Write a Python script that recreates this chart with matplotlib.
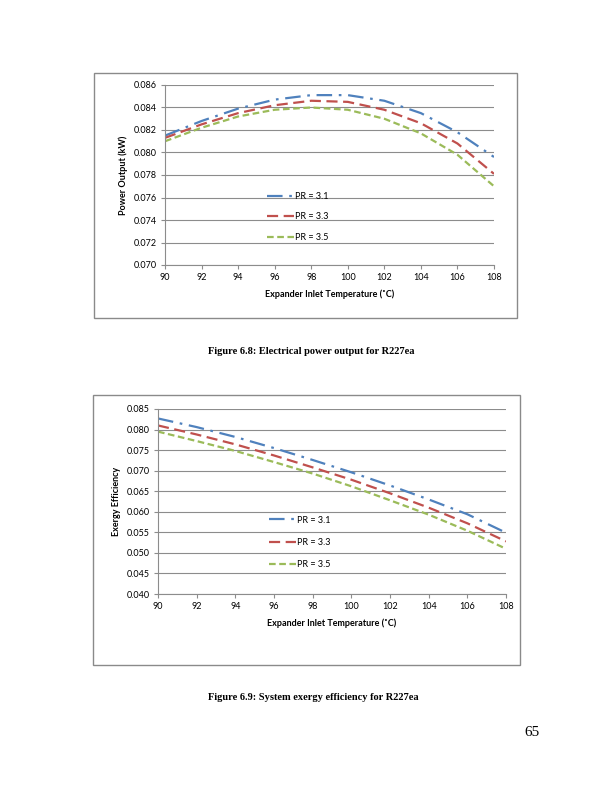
import matplotlib
matplotlib.use("Agg")
import matplotlib.pyplot as plt
from matplotlib.patches import Rectangle

# ---- data ----
temps = [90, 92, 94, 96, 98, 100, 102, 104, 106, 108]
series_labels = ["PR = 3.1", "PR = 3.3", "PR = 3.5"]

power_pr31 = [0.0815, 0.0828, 0.0839, 0.0847, 0.0851, 0.0851, 0.0846, 0.0835, 0.0818, 0.0796]
power_pr33 = [0.0813, 0.0825, 0.0835, 0.0842, 0.0846, 0.0845, 0.0838, 0.0826, 0.0808, 0.0781]
power_pr35 = [0.0810, 0.0822, 0.0832, 0.0838, 0.0840, 0.0838, 0.0830, 0.0817, 0.0798, 0.0770]

exergy_pr31 = [0.0827, 0.0806, 0.0782, 0.0755, 0.0726, 0.0696, 0.0664, 0.0630, 0.0594, 0.0549]
exergy_pr33 = [0.0810, 0.0788, 0.0764, 0.0737, 0.0708, 0.0678, 0.0645, 0.0610, 0.0572, 0.0528]
exergy_pr35 = [0.0795, 0.0772, 0.0748, 0.0721, 0.0693, 0.0662, 0.0628, 0.0593, 0.0554, 0.0510]

xticks = [90, 92, 94, 96, 98, 100, 102, 104, 106, 108]
power_yticks = [0.070, 0.072, 0.074, 0.076, 0.078, 0.080, 0.082, 0.084, 0.086]
exergy_yticks = [0.040, 0.045, 0.050, 0.055, 0.060, 0.065, 0.070, 0.075, 0.080, 0.085]

xlabel = "Expander Inlet Temperature (\u02daC)"
caption1 = "Figure 6.8: Electrical power output for R227ea"
caption2 = "Figure 6.9: System exergy efficiency for R227ea"
page_number = "65"

# ---- styles ----
W, H = 612, 792
colors = ["#4F81BD", "#C0504D", "#9BBB59"]
styles = [(0, (7, 3, 1.2, 3)), (0, (5, 2.5)), (0, (3, 1.6))]
FONT = "Lato"
grid_col = "#8C8C8C"

fig = plt.figure(figsize=(W / 100, H / 100), dpi=100)


def box(px0, py0, px1, py1):
    return [px0 / W, 1 - py1 / H, (px1 - px0) / W, (py1 - py0) / H]


def frame(px0, py0, px1, py1):
    r = Rectangle((px0 / W, 1 - py1 / H), (px1 - px0) / W, (py1 - py0) / H,
                  transform=fig.transFigure, fill=False, edgecolor="#8A8A8A",
                  linewidth=1.0)
    fig.patches.append(r)


def make_chart(rect, ys, yticks, ylabel, ylim, fmt, leg_anchor, leg_spacing):
    ax = fig.add_axes(box(*rect))
    for y, c, ls, lab in zip(ys, colors, styles, series_labels):
        ax.plot(temps, y, color=c, linestyle=ls, linewidth=1.6, label=lab,
                dash_capstyle="butt")
    ax.set_xlim(90, 108)
    ax.set_ylim(*ylim)
    ax.set_xticks(xticks)
    ax.set_yticks(yticks)
    ax.set_yticklabels([fmt.format(v) for v in yticks])
    ax.yaxis.grid(True, color=grid_col, linewidth=0.8)
    ax.set_axisbelow(True)
    for s in ["top", "right"]:
        ax.spines[s].set_visible(False)
    for s in ["left", "bottom"]:
        ax.spines[s].set_color(grid_col)
        ax.spines[s].set_linewidth(0.8)
    ax.tick_params(axis="both", colors=grid_col, length=3, width=0.8,
                   labelsize=6.5, labelcolor="black", pad=3)
    for t in ax.get_xticklabels() + ax.get_yticklabels():
        t.set_fontfamily(FONT)
    ax.set_xlabel(xlabel, fontsize=6.5, fontweight="bold", family=FONT, labelpad=5)
    ax.set_ylabel(ylabel, fontsize=6.5, fontweight="bold", family=FONT, labelpad=4)
    ax.legend(loc="center left", bbox_to_anchor=leg_anchor, frameon=False,
              prop={"family": FONT, "size": 6.5}, handlelength=3.0,
              handletextpad=0.1, labelspacing=leg_spacing, borderpad=0)
    return ax


# chart 1
frame(94, 73, 517, 318)
make_chart((165, 85, 494, 265), [power_pr31, power_pr33, power_pr35],
           power_yticks, "Power Output (kW)", (0.070, 0.086), "{:.3f}",
           (0.295, 0.267), 1.27)

# chart 2
frame(93, 395, 520, 665)
make_chart((158, 409, 506, 594), [exergy_pr31, exergy_pr33, exergy_pr35],
           exergy_yticks, "Exergy Efficiency", (0.040, 0.085), "{:.3f}",
           (0.306, 0.28), 1.45)

# captions
fig.text(208 / W, 1 - 352 / H, caption1, fontsize=7.5, fontweight="bold",
         family="Liberation Serif", ha="left", va="center")
fig.text(208 / W, 1 - 698 / H, caption2, fontsize=7.5, fontweight="bold",
         family="Liberation Serif", ha="left", va="center")
fig.text(532 / W, 1 - 732 / H, page_number, fontsize=11, family="Liberation Serif",
         ha="center", va="center")

fig.savefig("out.png", dpi=100)
